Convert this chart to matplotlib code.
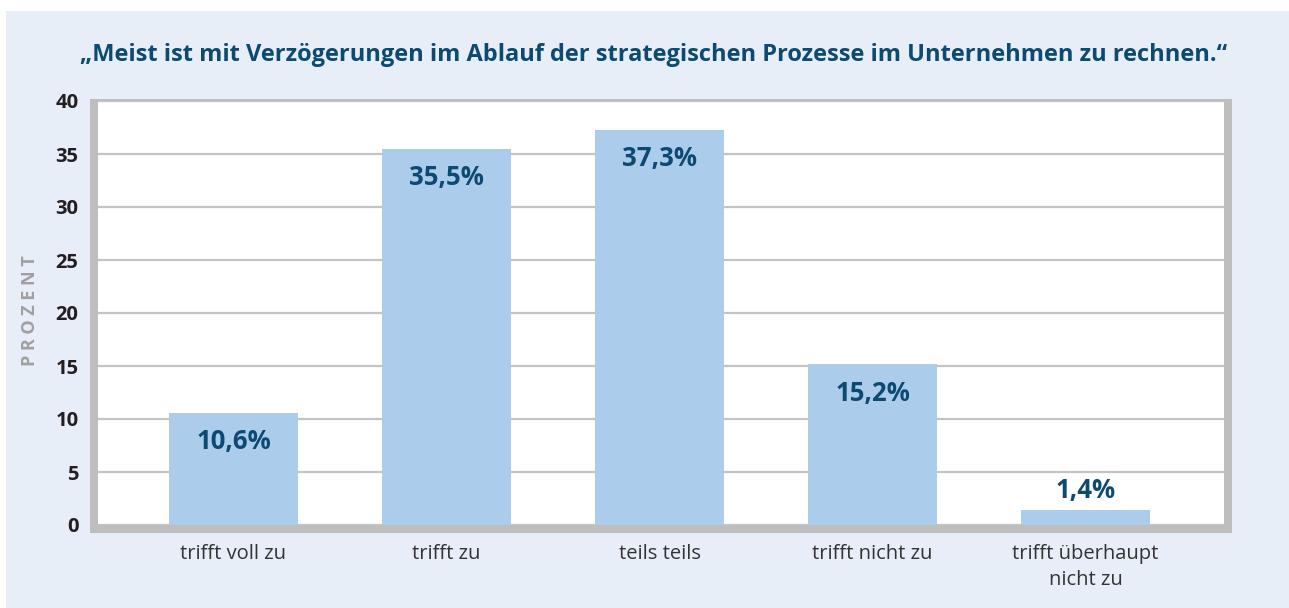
import matplotlib.pyplot as plt
from matplotlib.patches import Rectangle

plt.rcParams['font.family'] = ['Open Sans', 'DejaVu Sans']

# Daten
kategorien = ['trifft voll zu', 'trifft zu', 'teils teils', 'trifft nicht zu', 'trifft überhaupt\nnicht zu']
prozent = [10.6, 35.5, 37.3, 15.2, 1.4]
beschriftung = ['10,6%', '35,5%', '37,3%', '15,2%', '1,4%']
y_ticks = [0, 5, 10, 15, 20, 25, 30, 35, 40]

titel = '„Meist ist mit Verzögerungen im Ablauf der strategischen Prozesse im Unternehmen zu rechnen.“'

# Farben
hintergrund = '#e8eef8'
balken_farbe = '#abcdeb'
text_blau = '#0c4a72'
grau = '#bebebe'

W, H = 1289, 608
fig = plt.figure(figsize=(W / 100, H / 100), dpi=100)
fig.patch.set_facecolor('white')

# hellblaues Panel
fig.add_artist(Rectangle((6 / W, 0), 1 - 6 / W, (H - 11) / H, transform=fig.transFigure,
                         facecolor=hintergrund, edgecolor='none', zorder=-3))
# grauer Rahmen um den Plotbereich
fig.add_artist(Rectangle((90 / W, (H - 533) / H), (1232 - 90) / W, (533 - 99) / H,
                         transform=fig.transFigure, facecolor=grau, edgecolor='none', zorder=-2))

ax = fig.add_axes([98 / W, (H - 525) / H, (1224 - 98) / W, (525 - 101) / H])
ax.set_facecolor('white')
for s in ax.spines.values():
    s.set_visible(False)

x = list(range(len(kategorien)))
ax.bar(x, prozent, width=0.606, color=balken_farbe, zorder=3)

ax.set_ylim(0, 40)
ax.set_xlim(-0.636, 4.65)
ax.set_yticks(y_ticks)
ax.yaxis.grid(True, color='#c4c4c4', linewidth=1.6, zorder=0)
ax.set_axisbelow(True)

ax.set_xticks(x)
ax.set_xticklabels(kategorien, fontsize=14.5, color='#333333', linespacing=1.4)
ax.tick_params(axis='x', length=0, pad=14)
ax.tick_params(axis='y', length=0, pad=14, labelsize=14.5, labelcolor='#231f20')
for lbl in ax.get_yticklabels():
    lbl.set_fontweight('bold')

# Werte in/über den Balken
for xi, wert, txt in zip(x, prozent, beschriftung):
    if wert > 5:
        ax.annotate(txt, (xi, wert), xytext=(0, -21), textcoords='offset points',
                    ha='center', va='center', fontsize=18.5, fontweight='bold', color=text_blau, zorder=4)
    else:
        ax.annotate(txt, (xi, wert), xytext=(0, 14), textcoords='offset points',
                    ha='center', va='center', fontsize=18.5, fontweight='bold', color=text_blau, zorder=4)

fig.text(30 / W, (H - 311) / H, 'P R O Z E N T', rotation=90, ha='center', va='center',
         fontsize=13, fontweight='bold', color='#a0a0a0')

fig.text(654 / W, (H - 55) / H, titel, ha='center', va='center',
         fontsize=17, fontweight='bold', color=text_blau)

plt.savefig('out.png', dpi=100, facecolor=fig.get_facecolor())
